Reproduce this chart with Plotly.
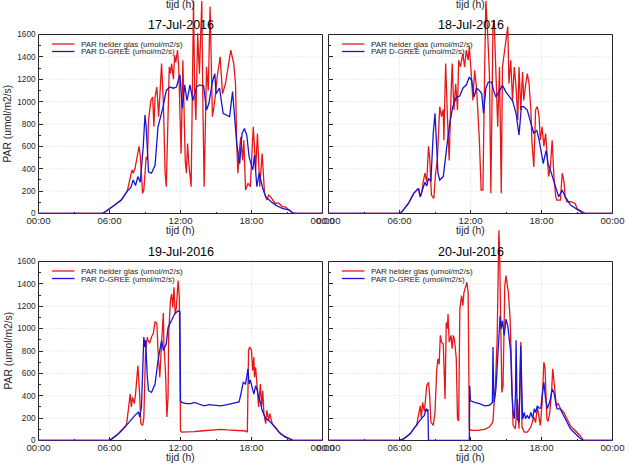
import plotly.graph_objects as go

# ---------------- data ----------------
hour_ticks = [0, 6, 12, 18, 24]
hour_labels = ['00:00', '06:00', '12:00', '18:00', '00:00']
hour_minor = [3, 9, 15, 21]
par_ticks = [0, 200, 400, 600, 800, 1000, 1200, 1400, 1600]
par_minor = [100, 300, 500, 700, 900, 1100, 1300, 1500]
titles = ['17-Jul-2016', '18-Jul-2016', '19-Jul-2016', '20-Jul-2016']
name_red = 'PAR helder glas (umol/m2/s)'
name_blue = 'PAR D-GREE (umol/m2/s)'
x_title = 'tijd (h)'
y_title = 'PAR (umol/m2/s)'

# 17-Jul-2016
t17_blue = [0, 5.4, 5.7, 6.0, 6.5, 7.0, 7.5, 7.8, 8.0, 8.2, 8.4, 8.6, 8.85, 9.0, 9.1, 9.3, 9.55, 9.85,
            10.1, 10.5, 10.8, 11.1, 11.4, 11.65, 11.95, 12.15, 12.35, 12.55, 12.8, 13.05, 13.35, 13.6,
            13.95, 14.2, 14.4, 14.7, 14.9, 15.0, 15.3, 15.6, 15.85, 16.15, 16.4, 16.55, 16.75, 17.0,
            17.2, 17.4, 17.6, 17.8, 18.1, 18.25, 18.45, 18.65, 18.95, 19.2, 19.65, 20.05, 20.6, 21.2,
            21.45, 21.75, 24]
par17_blue = [0, 0, 20, 40, 80, 120, 200, 230, 300, 250, 330, 280, 600, 880, 775, 370, 360, 430,
              775, 940, 1100, 1130, 1120, 1130, 1240, 940, 1150, 1010, 1150, 1010, 1130, 1150,
              1140, 925, 985, 1180, 1250, 1070, 1120, 895, 880, 865, 1090, 900, 625, 445,
              715, 760, 700, 505, 390, 520, 240, 360, 225, 150, 105, 75, 45, 30,
              5, 0, 0]
t17_red = [0, 5.4, 5.7, 6.0, 6.5, 7.0, 7.5, 7.9, 8.0, 8.15, 8.35, 8.5, 8.6, 8.8, 8.9, 9.1, 9.2, 9.3,
           9.5, 9.65, 9.75, 9.85, 10.0, 10.15, 10.25, 10.4, 10.55, 10.7, 10.8, 10.95, 11.05, 11.15,
           11.25, 11.4, 11.5, 11.6, 11.75, 11.85, 11.95, 12.05, 12.2, 12.3, 12.4, 12.5, 12.6, 12.7,
           12.9, 13.1, 13.2, 13.3, 13.45, 13.6, 13.8, 13.9, 14.0, 14.2, 14.35, 14.5, 14.6, 14.7,
           14.9, 15.1, 15.35, 15.55, 15.8, 16.1, 16.25, 16.5, 16.65, 16.75, 16.85, 17.0, 17.1,
           17.25, 17.35, 17.5, 17.7, 17.9, 18.15, 18.25, 18.35, 18.5, 18.7, 18.9, 19.1, 19.3,
           19.45, 19.6, 19.8, 20.0, 20.3, 20.6, 20.85, 21.1, 21.3, 21.55, 24]
par17_red = [0, 0, 20, 40, 80, 120, 200, 390, 360, 400, 505, 600, 520, 180, 210, 505, 480, 835,
             1010, 1040, 775, 1040, 1130, 865, 1040, 1340, 1000, 360, 240, 865, 1310, 1250,
             1340, 1200, 1415, 1350, 1460, 1300, 775, 535, 1370, 900, 475, 360, 625, 450,
             240, 1900, 1100, 835, 1610, 1250, 1900, 900, 240, 1310, 1100, 1850, 1200, 865,
             1010, 1220, 1400, 1070, 1160, 1385, 1460, 1340, 1160, 625, 360, 595, 685,
             475, 655, 210, 270, 240, 775, 600, 390, 715, 240, 535, 180, 120,
             165, 150, 120, 90, 95, 60, 60, 40, 20, 0, 0]

# 18-Jul-2016
t18_blue = [0, 5.9, 6.2, 6.75, 7.2, 7.45, 7.6, 7.75, 7.9, 8.0, 8.15, 8.3, 8.45, 8.65, 8.85, 9.0, 9.1,
            9.25, 9.4, 9.7, 10.0, 10.25, 10.5, 10.8, 11.1, 11.35, 11.65, 11.9, 12.1, 12.3, 12.5,
            12.75, 12.95, 13.1, 13.3, 13.5, 13.8, 13.95, 14.15, 14.45, 14.7, 15.0, 15.3, 15.55,
            15.85, 16.1, 16.3, 16.5, 16.8, 17.1, 17.35, 17.6, 17.8, 18.0, 18.15, 18.25, 18.4,
            18.55, 18.75, 19.05, 19.25, 19.45, 19.75, 20.0, 20.45, 20.85, 21.3, 21.55, 24]
par18_blue = [0, 0, 15, 90, 180, 210, 225, 150, 195, 240, 280, 245, 315, 285, 715, 895, 720,
              360, 300, 330, 600, 805, 955, 1040, 1050, 1120, 1150, 1220, 1190, 1040, 1120,
              1100, 1070, 895, 1120, 1175, 1175, 1100, 1040, 1100, 1145, 1085, 1040, 1010,
              895, 700, 955, 955, 925, 805, 715, 745, 655, 535, 445, 500, 565,
              445, 390, 285, 210, 150, 210, 150, 75, 45, 15, 0, 0]
t18_red = [0, 5.9, 6.2, 6.75, 7.2, 7.45, 7.6, 7.75, 7.9, 8.0, 8.15, 8.3, 8.45, 8.55, 8.7, 8.9, 9.05,
           9.2, 9.4, 9.55, 9.7, 9.75, 9.9, 10.05, 10.2, 10.35, 10.45, 10.6, 10.75, 10.9, 11.0, 11.15,
           11.35, 11.5, 11.65, 11.8, 11.9, 12.05, 12.2, 12.35, 12.5, 12.6, 12.75, 12.9, 13.05, 13.2,
           13.3, 13.45, 13.6, 13.72, 13.9, 14.0, 14.15, 14.3, 14.45, 14.6, 14.7, 14.9, 15.15, 15.25,
           15.4, 15.55, 15.7, 15.85, 16.0, 16.1, 16.25, 16.4, 16.5, 16.65, 16.8, 16.95, 17.1, 17.2,
           17.35, 17.5, 17.65, 17.8, 17.9, 18.05, 18.2, 18.35, 18.5, 18.6, 18.75, 18.9, 19.05, 19.2,
           19.3, 19.6, 19.75, 19.9, 20.0, 20.15, 20.45, 20.85, 21.0, 21.4, 21.7, 24]
par18_red = [0, 0, 15, 90, 180, 210, 225, 150, 195, 280, 360, 280, 600, 500, 165, 135, 360,
             480, 955, 865, 930, 655, 1340, 865, 475, 1040, 1340, 925, 1160, 925, 1370, 1310,
             1430, 1310, 1460, 1370, 1490, 1270, 1010, 1280, 1130, 955, 655, 210, 210, 1310,
             1900, 1610, 1250, 180, 1670, 1730, 1310, 775, 1310, 180, 1310, 1460, 1670, 1160,
             1370, 1010, 1310, 1130, 835, 1310, 925, 1265, 1010, 1145, 1250, 1160, 925, 625,
             415, 925, 955, 865, 655, 775, 600, 715, 505, 330, 415, 655, 330, 150,
             120, 120, 360, 285, 150, 105, 105, 90, 45, 15, 0, 0]

# 19-Jul-2016
t19_blue = [0, 5.9, 6.2, 6.75, 7.3, 7.75, 8.15, 8.45, 8.55, 8.7, 8.8, 8.9, 9.0, 9.05, 9.2, 9.3, 9.55,
            9.85, 10.1, 10.4, 10.55, 10.7, 10.8, 10.95, 11.25, 11.5, 11.8, 11.95, 12.0, 12.1, 12.5,
            12.9, 13.15, 13.6, 14.0, 14.4, 14.85, 15.4, 15.95, 16.5, 16.95, 17.1, 17.3, 17.5, 17.7,
            17.8, 17.9, 18.05, 18.2, 18.35, 18.5, 18.6, 18.75, 18.9, 19.2, 19.45, 19.75, 20.0,
            20.45, 20.85, 21.3, 21.55, 24]
par19_blue = [0, 0, 15, 60, 120, 180, 225, 255, 210, 300, 685, 925, 835, 895, 560, 445, 430,
              505, 715, 895, 805, 835, 865, 1010, 1070, 1130, 1160, 1150, 355, 340, 330,
              330, 340, 325, 310, 320, 315, 310, 320, 335, 345, 415, 520, 505, 640,
              505, 540, 475, 415, 490, 445, 385, 340, 270, 195, 180, 150, 120,
              60, 30, 10, 0, 0]
t19_red = [0, 5.9, 6.2, 6.75, 7.3, 7.45, 7.75, 7.85, 7.95, 8.1, 8.2, 8.3, 8.4, 8.55, 8.65, 8.8, 8.9,
           9.05, 9.2, 9.25, 9.4, 9.55, 9.7, 9.85, 10.0, 10.1, 10.25, 10.4, 10.55, 10.6, 10.75, 10.85,
           10.95, 11.0, 11.15, 11.25, 11.35, 11.45, 11.55, 11.65, 11.8, 11.9, 12.0, 12.1, 12.6,
           13.15, 13.7, 14.3, 14.85, 15.4, 15.95, 16.5, 17.05, 17.5, 17.65, 17.75, 17.85, 18.0,
           18.1, 18.2, 18.25, 18.35, 18.5, 18.6, 18.75, 18.85, 18.95, 19.05, 19.2, 19.3, 19.45,
           19.55, 19.75, 20.0, 20.3, 20.7, 21.3, 21.55, 24]
par19_red = [0, 0, 15, 60, 120, 150, 415, 300, 385, 330, 415, 535, 670, 400, 150, 135, 200,
             805, 925, 895, 870, 925, 955, 1060, 1050, 805, 565, 870, 1140, 870, 565, 210,
             390, 955, 1250, 1310, 1190, 1370, 1130, 1190, 1430, 1280, 90, 75, 75,
             80, 85, 90, 95, 100, 95, 90, 85, 85, 75, 805, 835, 805,
             625, 745, 565, 655, 445, 300, 505, 300, 445, 240, 150, 270, 180,
             240, 150, 120, 75, 45, 10, 0, 0]

# 20-Jul-2016
t20_blue = [0, 5.9, 6.35, 6.9, 7.3, 7.6, 7.85, 8.1, 8.25, 8.35, 8.4, 8.45, 11.9, 11.93, 12.0, 12.35,
            12.75, 13.2, 13.6, 13.85, 13.9, 13.95, 14.0, 14.15, 14.3, 14.4, 14.5, 14.6, 14.7, 14.85,
            15.0, 15.15, 15.25, 15.4, 15.5, 15.6, 15.7, 15.8, 15.85, 15.95, 16.1, 16.2, 16.25, 16.4,
            16.55, 16.65, 16.8, 16.95, 17.1, 17.25, 17.4, 17.5, 17.65, 17.8, 17.95, 18.05, 18.2,
            18.35, 18.5, 18.65, 18.75, 18.9, 19.05, 19.2, 19.3, 19.6, 19.9, 20.15, 20.45, 20.85,
            21.25, 21.55, 24]
par20_blue = [0, 0, 15, 60, 120, 165, 195, 225, 285, 260, 280, 0, 0, 490, 355, 340,
              330, 310, 315, 340, 835, 500, 340, 460, 790, 940, 1115, 1000, 1070, 940,
              1085, 1025, 940, 790, 430, 250, 195, 400, 895, 195, 165, 500, 850, 190,
              250, 195, 225, 195, 250, 200, 285, 250, 310, 290, 290, 400, 520,
              370, 285, 330, 370, 460, 430, 340, 285, 280, 210, 165, 105, 60,
              20, 0, 0]
t20_red = [0, 5.9, 6.35, 6.9, 7.3, 7.45, 7.75, 7.85, 7.95, 8.1, 8.2, 8.3, 8.45, 8.55, 8.65, 8.85, 9.0,
           9.15, 9.25, 9.35, 9.45, 9.55, 9.7, 9.85, 9.95, 10.05, 10.1, 10.2, 10.35, 10.45, 10.55,
           10.65, 10.8, 10.9, 11.0, 11.1, 11.25, 11.35, 11.45, 11.55, 11.7, 11.8, 11.9, 12.05, 12.6,
           13.2, 13.6, 13.8, 13.9, 14.0, 14.1, 14.25, 14.4, 14.45, 14.55, 14.65, 14.75, 14.9, 15.0,
           15.2, 15.35, 15.5, 15.6, 15.8, 15.9, 15.95, 16.1, 16.25, 16.35, 16.55, 16.8, 17.1, 17.35,
           17.5, 17.65, 17.8, 17.9, 18.05, 18.2, 18.3, 18.45, 18.55, 18.7, 18.85, 18.95, 19.1,
           19.25, 19.4, 19.6, 19.9, 20.15, 20.45, 20.85, 21.25, 21.55, 24]
par20_red = [0, 0, 15, 60, 120, 135, 310, 200, 340, 260, 370, 490, 520, 400, 165, 135, 250,
             640, 730, 680, 940, 880, 860, 370, 1055, 1000, 1130, 880, 940, 820, 940,
             900, 730, 195, 175, 1175, 1295, 1205, 1325, 1370, 1415, 1320, 105, 90, 90,
             100, 120, 150, 170, 340, 480, 900, 1880, 1745, 1000, 430, 490, 1385, 1475,
             1325, 1085, 430, 135, 105, 250, 370, 105, 880, 120, 75, 75, 120, 210,
             160, 300, 180, 135, 330, 700, 650, 195, 170, 250, 430, 640, 480,
             310, 330, 285, 250, 190, 130, 90, 45, 0, 0]

panels = [
    (t17_red, par17_red, t17_blue, par17_blue),
    (t18_red, par18_red, t18_blue, par18_blue),
    (t19_red, par19_red, t19_blue, par19_blue),
    (t20_red, par20_red, t20_blue, par20_blue),
]

# ---------------- styling / geometry ----------------
W, H = 629, 465
RED = 'rgb(232,22,22)'
BLUE = 'rgb(22,22,215)'
AXC = '#262626'
GRID = '#d6d6d6'
FONT = 'Liberation Sans, Arial, sans-serif'

col_px = [(38.5, 322.5), (328.5, 612.5)]       # x pixel extent of panels
row_px = [(213.5, 0.0), (440.5, 222.0)]        # (pixel of value 0, pixel of top of drawing area)
PPU = 179.0 / 1600.0                            # pixels per PAR unit


def px_x(p):
    return p / W


def px_y(p):
    return 1 - p / H


fig = go.Figure()
shapes = []
annotations = []
layout_axes = {}

for i, (tr, vr, tb, vb) in enumerate(panels):
    n = '' if i == 0 else str(i + 1)
    col, row = i % 2, i // 2
    x0p, x1p = col_px[col]
    y0p, ytp = row_px[row]
    ytop = (y0p - ytp) / PPU
    p1600 = y0p - 1600 * PPU

    fig.add_trace(go.Scatter(x=tr, y=vr, mode='lines', line=dict(color=RED, width=1.3),
                             name=name_red, showlegend=False, hoverinfo='skip',
                             xaxis='x' + n, yaxis='y' + n))
    fig.add_trace(go.Scatter(x=tb, y=vb, mode='lines', line=dict(color=BLUE, width=1.3),
                             name=name_blue, showlegend=False, hoverinfo='skip',
                             xaxis='x' + n, yaxis='y' + n))

    layout_axes['xaxis' + n] = dict(
        domain=[px_x(x0p), px_x(x1p)], anchor='y' + n, range=[0, 24],
        tickmode='array', tickvals=hour_ticks, ticktext=hour_labels,
        ticks='inside', ticklen=4, tickcolor=AXC, tickwidth=1,
        minor=dict(tickmode='array', tickvals=hour_minor, ticks='inside', ticklen=2, tickcolor=AXC),
        showgrid=False, zeroline=False, showline=False,
        tickfont=dict(family=FONT, size=9.6, color=AXC), fixedrange=True,
    )
    layout_axes['yaxis' + n] = dict(
        domain=[px_y(y0p), px_y(ytp)], anchor='x' + n, range=[0, ytop],
        tickmode='array', tickvals=par_ticks,
        ticks='inside', ticklen=4, tickcolor=AXC, tickwidth=1,
        minor=dict(tickmode='array', tickvals=par_minor, ticks='inside', ticklen=2, tickcolor=AXC),
        showgrid=False, zeroline=False, showline=False,
        showticklabels=(col == 0), ticklabelstandoff=2,
        tickfont=dict(family=FONT, size=8.2, color=AXC), fixedrange=True,
    )

    # dotted grid
    for v in par_ticks[1:-1]:
        shapes.append(dict(type='line', xref='x' + n, yref='y' + n, x0=0, x1=24, y0=v, y1=v,
                           line=dict(color=GRID, width=1, dash='1px,2px'), layer='below'))
    for h in hour_ticks[1:-1]:
        shapes.append(dict(type='line', xref='x' + n, yref='y' + n, x0=h, x1=h, y0=0, y1=1600,
                           line=dict(color=GRID, width=1, dash='1px,2px'), layer='below'))
    # axes box
    shapes.append(dict(type='rect', xref='paper', yref='paper',
                       x0=px_x(x0p), x1=px_x(x1p), y0=px_y(y0p), y1=px_y(p1600),
                       line=dict(color=AXC, width=1), fillcolor='rgba(0,0,0,0)', layer='below'))

    cx = (x0p + x1p) / 2
    # title
    annotations.append(dict(text=titles[i], x=px_x(cx), y=px_y(p1600 - 9.5), xref='paper', yref='paper',
                            showarrow=False, xanchor='center', yanchor='middle',
                            font=dict(family=FONT, size=12.5, color='black')))
    # x axis title
    annotations.append(dict(text=x_title, x=px_x(cx), y=px_y(y0p + 16.5), xref='paper', yref='paper',
                            showarrow=False, xanchor='center', yanchor='middle',
                            font=dict(family=FONT, size=10.3, color=AXC)))
    if row == 0:
        # x-axis title of the (cut off) panel above
        annotations.append(dict(text=x_title, x=px_x(cx), y=px_y(4.5), xref='paper', yref='paper',
                                showarrow=False, xanchor='center', yanchor='middle',
                                font=dict(family=FONT, size=10.3, color=AXC)))
    if col == 0:
        annotations.append(dict(text=y_title, x=px_x(7.5), y=px_y((y0p + p1600) / 2),
                                xref='paper', yref='paper', showarrow=False, textangle=-90,
                                xanchor='center', yanchor='middle',
                                font=dict(family=FONT, size=10.3, color=AXC)))
    # legend (drawn by hand so it can be as compact as the original)
    for k, (nm, colr) in enumerate([(name_red, RED), (name_blue, BLUE)]):
        ly = p1600 + 9.5 + 7.5 * k
        shapes.append(dict(type='line', xref='paper', yref='paper',
                           x0=px_x(x0p + 13.5), x1=px_x(x0p + 36), y0=px_y(ly), y1=px_y(ly),
                           line=dict(color=colr, width=1.3), layer='above'))
        annotations.append(dict(text=nm, x=px_x(x0p + 40), y=px_y(ly + 0.5), xref='paper', yref='paper',
                                showarrow=False, xanchor='left', yanchor='middle',
                                font=dict(family=FONT, size=8, color=AXC)))

fig.update_layout(
    width=W, height=H, margin=dict(l=0, r=0, t=0, b=0),
    template='none', showlegend=False,
    paper_bgcolor='white', plot_bgcolor='rgba(0,0,0,0)',
    shapes=shapes, annotations=annotations,
    font=dict(family=FONT, color=AXC),
    **layout_axes,
)

fig.write_html('out.html', config={'displayModeBar': False},
               post_script="document.body.style.margin='0';document.body.style.overflow='hidden';")
